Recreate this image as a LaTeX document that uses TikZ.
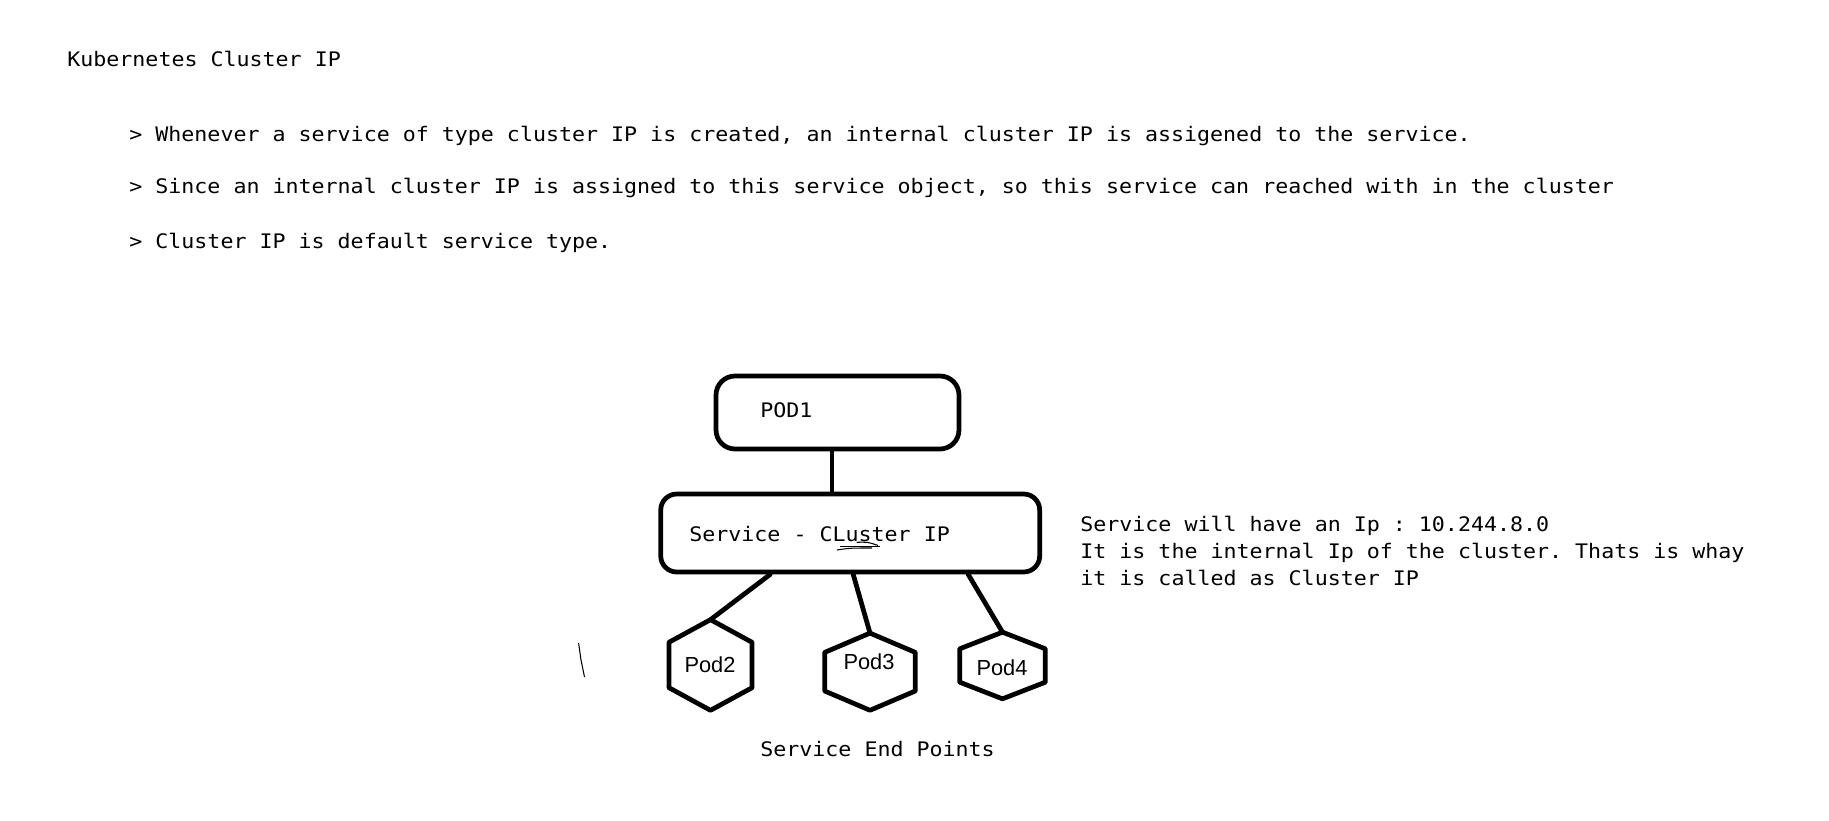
\documentclass[tikz,border=0pt]{standalone}
\usepackage{fontspec}
\setmonofont{DejaVu Sans Mono}[FakeStretch=1.08]
\newfontfamily\podfont{Liberation Sans}
\usetikzlibrary{calc}

% outline of a pod hexagon round an empty node
\newcommand{\podhex}[1]{%
  \draw[edge] (#1.north) -- ($(#1.north east)!.25!(#1.south east)$)
    -- ($(#1.north east)!.75!(#1.south east)$) -- (#1.south)
    -- ($(#1.north west)!.75!(#1.south west)$)
    -- ($(#1.north west)!.25!(#1.south west)$) -- cycle;}

\begin{document}
\begin{tikzpicture}
    [x=0.02cm,y=-0.02cm,
     every node/.style={inner sep=0pt},
     note/.style={anchor=base west,font=\ttfamily\fontsize{11.4pt}{13pt}\selectfont},
     box/.style={draw,line width=2.7pt},
     hexbox/.style={minimum width=#1},
     podlabel/.style={anchor=base,font=\podfont\fontsize{12.4pt}{14pt}\selectfont},
     edge/.style={line width=2.7pt,line cap=round,line join=round}]
    \fill[white] (0,0) rectangle (1829,821);
    \useasboundingbox (0,0) rectangle (1829,821);

    \node[note] (title) at (67,67) {Kubernetes Cluster IP};
    \node[note] (point1) at (129,141) {> Whenever a service of type cluster IP is created, an internal cluster IP is assigened to the service.};
    \node[note] (point2) at (129,194) {> Since an internal cluster IP is assigned to this service object, so this service can reached with in the cluster};
    \node[note] (point3) at (129,248) {> Cluster IP is default service type.};

    \node[box,rounded corners=0.38cm,minimum width=4.86cm,minimum height=1.46cm] (pod1) at (837.5,412.5) {};
    \node[note] (pod1name) at (760,417) {POD1};
    \node[box,rounded corners=0.32cm,minimum width=7.58cm,minimum height=1.56cm] (svc) at (850.2,533) {};
    \node[note] (svcname) at (689,541) {Service - CLuster IP};

    \node[hexbox=1.65cm,minimum height=1.8cm] (pod2) at (710.5,665) {};
    \node[hexbox=1.8cm,minimum height=1.53cm] (pod3) at (870,671.7) {};
    \node[hexbox=1.7cm,minimum height=1.32cm] (pod4) at (1002.5,665.5) {};
    \podhex{pod2}
    \podhex{pod3}
    \podhex{pod4}
    \node[podlabel] (pod2name) at (710,672) {Pod2};
    \node[podlabel] (pod3name) at (869,669) {Pod3};
    \node[podlabel] (pod4name) at (1002,675) {Pod4};

    \draw[edge] ([xshift=-0.11cm]pod1.south) -- ([xshift=-0.11cm]pod1.south |- svc.north);
    \draw[edge] ([xshift=-1.6cm]svc.south) -- (pod2.north);
    \draw[edge] ([xshift=0.06cm]svc.south) -- (pod3.north);
    \draw[edge] ([xshift=2.36cm]svc.south) -- (pod4.north);

    \node[note] (endpoints) at (760,756) {Service End Points};

    \node[note] (info1) at (1080,531) {Service will have an Ip : 10.244.8.0};
    \node[note] (info2) at (1080,558) {It is the internal Ip of the cluster. Thats is whay};
    \node[note] (info3) at (1080,585) {it is called as Cluster IP};

    % pen marks
    \draw[line width=0.6pt] (837,550) .. controls (850,548) .. (872,548);
    \draw[line width=0.6pt] (840,546.7) -- (880,546.7);
    \draw[line width=0.6pt] (856.7,542.3) .. controls (868,542) .. (878,545.5);
    \draw[line width=0.6pt] (578.6,643) -- (581,660) -- (584.5,677);
\end{tikzpicture}
\end{document}
